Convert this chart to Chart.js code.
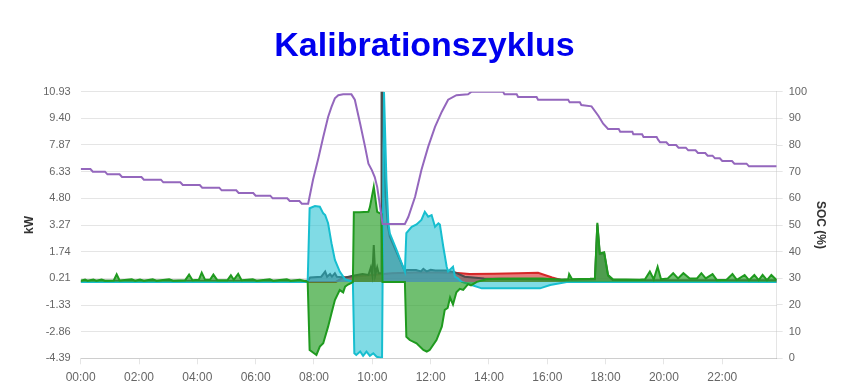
<!DOCTYPE html>
<html>
<head>
<meta charset="utf-8">
<script src="https://cdn.jsdelivr.net/npm/chart.js@4"></script>
<style>
  html, body { margin: 0; padding: 0; background: #ffffff; }
  canvas { display: block; }
</style>
</head>
<body>
<canvas id="c" width="849" height="390"></canvas>
<script>
// ---- Data (time in minutes since 00:00) ----
const xTickLabels = ["00:00","02:00","04:00","06:00","08:00","10:00","12:00","14:00","16:00","18:00","20:00","22:00"];
const xTickMinutes = [0,120,240,360,480,600,720,840,960,1080,1200,1320];
const yTickLabels = ["10.93","9.40","7.87","6.33","4.80","3.27","1.74","0.21","-1.33","-2.86","-4.39"];
const socTickLabels = ["0","10","20","30","40","50","60","70","80","90","100"];

// SOC (%)
const socTimes = [0,20,25,50,55,80,85,125,130,165,170,205,210,245,250,285,290,320,325,355,360,390,395,425,430,450,455,468,
  478,489,499,509,516,523,530,540,557,
  564,575,585,592,599,605,610,614,621,667,
  674,688,701,715,729,743,756,773,797,804,
  869,872,897,900,938,941,1003,1006,1027,1030,1051,1065,1075,1085,1107,1110,1135,1137,1155,1158,1185,1188,
  1192,1205,1210,1225,1230,1245,1250,1265,1270,1285,1290,1300,1305,1315,1320,1340,1345,1370,1375,1432];
const socValues = [71,71,70,70,69,69,68,68,67,67,66,66,65,65,64,64,63,63,62,62,61,61,60,60,59,59,58,58,
  67,75,83,90.5,94.3,97.5,98.7,99,99,
  97,88,79.4,73,70.6,68,64.3,59.4,50.4,50.4,
  53,60.6,70.6,79.4,86.8,92.5,97,98.7,99,100,
  100,99,99,98,98,97,97,96,96,95,94.5,91,88,86,86,85,85,84,84,83,83,82,
  81,81,80,80,79,79,78,78,77,77,76,76,75,75,74,74,73,73,72,72];

// Grid power (kW) – green
const gridTimes = [0,9,14,26,32,43,50,68,74,80,105,112,122,130,148,156,182,190,215,223,
  230,243,249,256,266,273,281,302,309,315,324,331,354,362,389,396,424,432,451,460,467,
  471,485,492,499,509,516,523,533,540,544,550,557,560,562,574,592,595,603,610,616,
  619,621,667,670,677,691,705,712,718,732,743,749,755,760,766,773,780,787,797,803,815,835,
  860,900,950,990,1003,1005,1011,1048,1058,1063,1068,1077,1085,1095,1150,1161,1171,1179,1187,1194,
  1208,1219,1229,1240,1253,1268,1277,1286,1300,1309,1329,1341,1350,1366,1375,1386,1395,1403,1412,1421,1432];
const gridValues = [0.07,0.14,0.07,0.14,0.07,0.14,0.07,0.08,0.44,0.08,0.15,0.07,0.14,0.07,0.15,0.07,0.15,0.07,0.1,0.42,
  0.1,0.12,0.53,0.12,0.12,0.42,0.1,0.1,0.38,0.12,0.46,0.1,0.15,0.07,0.15,0.07,0.15,0.07,0.12,0.05,0,
  -3.91,-4.2,-3.72,-3.53,-2.57,-1.8,-1.04,-0.47,-0.6,-0.27,-0.15,-0.05,0,4.0,4.0,4.03,4.3,5.47,4.03,3.94,
  3.9,0,0,-3.15,-3.34,-3.53,-3.91,-4.0,-3.91,-3.34,-2.57,-1.61,-1.5,-0.9,-1.3,-0.6,-0.4,-0.46,-0.13,-0.2,0,0.15,
  0.18,0.2,0.2,0.12,0.15,0.45,0.15,0.18,0.2,3.4,1.64,1.7,0.4,0.15,0.12,0.15,0.59,0.15,0.87,0.15,
  0.2,0.5,0.2,0.5,0.2,0.2,0.5,0.2,0.45,0.1,0.12,0.45,0.12,0.4,0.1,0.4,0.1,0.4,0.1,0.4,0.1];

// Battery power (kW) – cyan
const battTimes = [0,467,471,482,492,499,503,509,516,523,533,544,558,560,563,567,575,581,588,595,
  602,609,617,620,624,629,633,636,650,667,670,681,691,701,708,715,722,729,736,739,
  746,753,756,766,770,776,784,801,825,945,966,1000,1432];
const battValues = [0,0,4.23,4.36,4.32,3.94,3.84,3.37,2.22,1.26,0.59,0.15,0.02,0,-4.1,-4.2,-4.0,-4.25,-4.0,-4.25,
  -4.1,-4.3,-4.35,-4.35,10.93,5.85,3.37,2.79,1.83,0.59,2.8,3.17,3.3,3.56,4.03,3.75,3.84,3.17,3.37,3.3,
  2.02,0.87,0.6,0.87,0.3,0.2,0,-0.15,-0.37,-0.37,-0.18,0,0];

// House consumption (kW) – gray
const loadTimes = [0,467,472,495,503,507,513,517,523,527,545,560,580,592,597,600,603,606,610,613,618,
  619,621,623,627,632,636,650,667,671,690,700,705,712,720,730,753,770,790,830,1000,
  1058,1063,1068,1077,1085,1095,1432];
const loadValues = [0.06,0.06,0.25,0.3,0.59,0.3,0.45,0.3,0.5,0.3,0.25,0.35,0.45,0.4,0.84,0.4,2.12,0.4,0.84,0.5,0.5,
  10.93,10.93,8.5,5.0,3.2,2.6,1.7,0.6,0.68,0.68,0.6,0.75,0.6,0.7,0.65,0.65,0.55,0.3,0.2,0.12,
  0.15,3.3,1.6,1.65,0.35,0.1,0.1];

// PV power (kW) – red
const pvTimes = [0,525,540,560,600,620,640,700,770,800,850,900,941,970,990,1000,1432];
const pvValues = [0,0,0.25,0.3,0.4,0.45,0.5,0.55,0.53,0.45,0.47,0.5,0.53,0.25,0.1,0,0];

// ---- Build chart ----
const pts = (t, v) => t.map((m, i) => ({x: m, y: v[i]}));
const FONT = "'Liberation Sans', Arial, Helvetica, sans-serif";
const yTickValues = yTickLabels.map(parseFloat).sort((a, b) => a - b);

new Chart(document.getElementById('c'), {
  type: 'line',
  data: {
    datasets: [
      { label: 'SOC', data: pts(socTimes, socValues), yAxisID: 'y1', borderColor: '#9467bd', borderWidth: 2, fill: false, order: 0 },
      { label: 'Netz', data: pts(gridTimes, gridValues), yAxisID: 'y', borderColor: '#1f9a1f', backgroundColor: 'rgba(44,160,44,0.68)', borderWidth: 2, fill: 'origin', order: 1 },
      { label: 'Batterie', data: pts(battTimes, battValues), yAxisID: 'y', borderColor: '#17becf', backgroundColor: 'rgba(23,190,207,0.55)', borderWidth: 2, fill: 'origin', order: 2 },
      { label: 'Verbrauch', data: pts(loadTimes, loadValues), yAxisID: 'y', borderColor: '#4d4d4d', backgroundColor: 'rgba(110,110,110,0.7)', borderWidth: 2, fill: 'origin', order: 3 },
      { label: 'PV', data: pts(pvTimes, pvValues), yAxisID: 'y', borderColor: '#d62728', backgroundColor: 'rgba(214,39,40,0.6)', borderWidth: 2, fill: 'origin', order: 4 }
    ]
  },
  options: {
    responsive: false,
    animation: false,
    devicePixelRatio: 1,
    layout: { padding: 0 },
    elements: { point: { radius: 0 }, line: { tension: 0 } },
    plugins: {
      legend: { display: false },
      tooltip: { enabled: false },
      title: {
        display: true,
        text: 'Kalibrationszyklus',
        color: '#0000ee',
        font: { family: FONT, size: 34, weight: 'bold' },
        padding: { top: 26, bottom: 24.9 }
      }
    },
    scales: {
      x: {
        type: 'linear',
        min: 0,
        max: 1432,
        grid: { drawOnChartArea: false, tickLength: 6, color: 'rgba(0,0,0,0.1)' },
        border: { display: true, color: 'rgba(0,0,0,0.1)' },
        ticks: {
          font: { family: FONT, size: 12 }, color: '#666', padding: 6,
          maxRotation: 0, autoSkip: false,
          callback: (v, i) => xTickLabels[i]
        },
        afterBuildTicks: s => { s.ticks = xTickMinutes.map(v => ({ value: v })); },
        afterFit: s => { s.height = 31.7; }
      },
      y: {
        position: 'left',
        min: -4.39,
        max: 10.93,
        grid: { drawTicks: false, color: 'rgba(0,0,0,0.1)' },
        border: { display: false },
        ticks: {
          font: { family: FONT, size: 11 }, color: '#666', padding: 10,
          callback: v => v.toFixed(2)
        },
        afterBuildTicks: s => { s.ticks = yTickValues.map(v => ({ value: v })); },
        title: { display: true, text: 'kW', color: '#333', font: { family: FONT, size: 12, weight: 'bold' }, padding: { top: 22 } },
        afterFit: s => { s.width = 80.7; }
      },
      y1: {
        position: 'right',
        min: 0,
        max: 100,
        grid: { drawOnChartArea: false, tickLength: 6, color: 'rgba(0,0,0,0.1)' },
        border: { display: true, color: 'rgba(0,0,0,0.1)' },
        ticks: {
          font: { family: FONT, size: 11 }, color: '#666', padding: 6, stepSize: 10,
          callback: (v, i) => socTickLabels[i]
        },
        title: { display: true, text: 'SOC (%)', color: '#333', font: { family: FONT, size: 12, weight: 'bold' }, padding: { top: 21 } },
        afterFit: s => { s.width = 72.3; }
      }
    }
  }
});
</script>
</body>
</html>
